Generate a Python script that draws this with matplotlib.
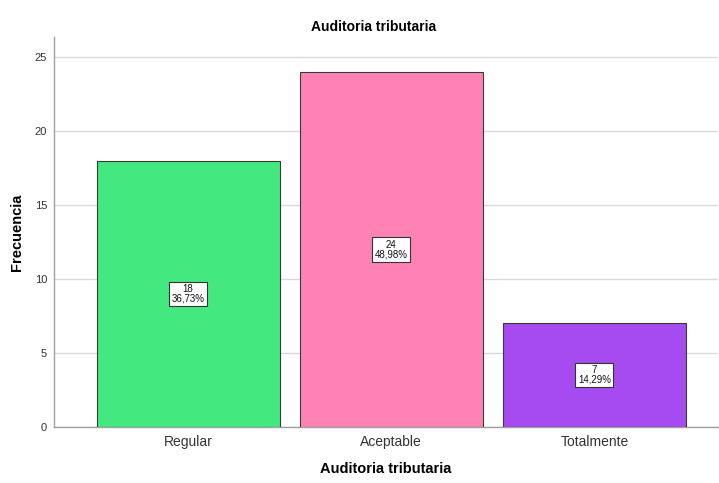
import matplotlib
matplotlib.use("Agg")
import matplotlib.pyplot as plt

categories = ["Regular", "Aceptable", "Totalmente"]
counts = [18, 24, 7]
percents = ["36,73%", "48,98%", "14,29%"]
colors = ["#43E97F", "#FF82B4", "#A64BF0"]
yticks = [0, 5, 10, 15, 20, 25]

fam = ["Liberation Sans Narrow", "Liberation Sans", "DejaVu Sans"]
plt.rcParams["font.family"] = fam

fig = plt.figure(figsize=(7.19, 4.83), dpi=100)
ax = fig.add_axes([0.0751, 0.116, 0.924, 0.8074])

x = list(range(len(categories)))
ax.bar(x, counts, width=0.9, color=colors, edgecolor="#3a3a3a", linewidth=0.8, zorder=3)
for xi, c, p in zip(x, counts, percents):
    ax.text(xi, c / 2, f"{c}\n{p}", ha="center", va="center", fontsize=7, color="#111111",
            linespacing=0.95, zorder=4,
            bbox=dict(boxstyle="square,pad=0.25", facecolor="white", edgecolor="#333333", linewidth=0.8))

ax.set_xlim(-0.66, 2.61)
ax.set_ylim(0, 26.35)
ax.set_yticks(yticks)
ax.set_xticks(x)
ax.set_xticklabels(categories, fontsize=10, color="#333333")
ax.tick_params(axis="y", labelsize=8, colors="#333333", length=0, pad=5)
ax.tick_params(axis="x", length=0, pad=6)
ax.yaxis.grid(True, color="#d9d9d9", linewidth=1.0, zorder=0)
ax.set_axisbelow(True)
for s in ["top", "right"]:
    ax.spines[s].set_visible(False)
for s in ["left", "bottom"]:
    ax.spines[s].set_color("#a0a0a0")
    ax.spines[s].set_linewidth(1.0)

ax.set_ylabel("Frecuencia", fontsize=10.5, fontweight="bold", labelpad=8)
ax.set_xlabel("Auditoria tributaria", fontsize=10.5, fontweight="bold", labelpad=9)
fig.text(0.52, 0.945, "Auditoria tributaria", ha="center", va="center", fontsize=10, fontweight="bold")

fig.savefig("out.png", dpi=100)
